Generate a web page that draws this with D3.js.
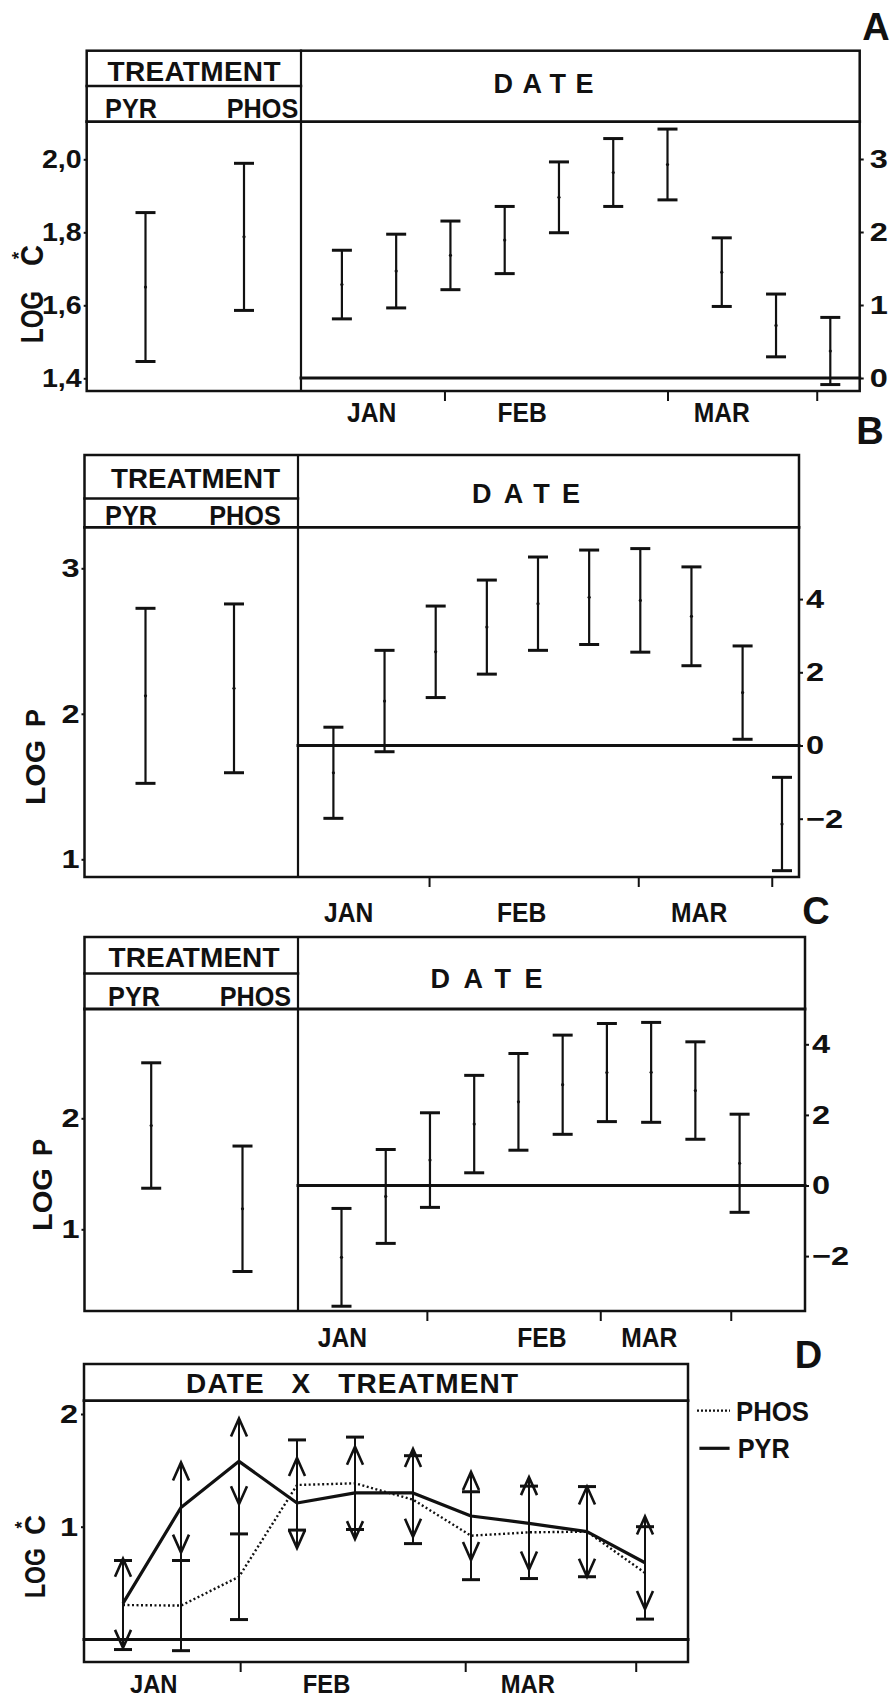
<!DOCTYPE html>
<html><head><meta charset="utf-8">
<script src="https://cdn.jsdelivr.net/npm/d3@7"></script>
<style>
body{margin:0;background:#fff;}
svg{display:block;}
text{font-family:"Liberation Sans",Arial,Helvetica,sans-serif;font-weight:bold;fill:#111;}
</style></head><body>
<script>
// ---------------- DATA ----------------
const treatments = ["PYR", "PHOS"];
const months = ["JAN", "FEB", "MAR"];

// Panel A : LOG *C
const aTreatLo = [1.446, 1.586];
const aTreatHi = [1.854, 1.989];
const aDateIdx = [1, 2, 3, 4, 5, 6, 7, 8, 9, 10];
const aDateLo = [0.81, 0.96, 1.21, 1.43, 1.99, 2.35, 2.44, 0.98, 0.29, -0.09];
const aDateHi = [1.75, 1.97, 2.15, 2.35, 2.96, 3.28, 3.41, 1.92, 1.15, 0.83];
const aMonthTicks = [2.89, 7.0, 9.75];
const aMonthLabelPos = [1.55, 4.32, 8.0];
const aLeftTicks = [1.4, 1.6, 1.8, 2.0];
const aRightTicks = [0, 1, 2, 3];

// Panel B : LOG P
const bTreatLo = [1.522, 1.595];
const bTreatHi = [2.725, 2.755];
const bDateIdx = [1, 2, 3, 4, 5, 6, 7, 8, 9, 9.77];
const bDateLo = [-1.99, -0.17, 1.31, 1.95, 2.60, 2.76, 2.55, 2.18, 0.17, -3.42];
const bDateHi = [0.50, 2.60, 3.81, 4.52, 5.15, 5.34, 5.38, 4.88, 2.72, -0.87];
const bMonthTicks = [2.87, 6.96, 9.57];
const bMonthLabelPos = [1.30, 4.68, 8.15];
const bLeftTicks = [1, 2, 3];
const bRightTicks = [-2, 0, 2, 4];

// Panel C : LOG P
const cTreatLo = [1.37, 0.62];
const cTreatHi = [2.50, 1.75];
const cDateIdx = [1, 2, 3, 4, 5, 6, 7, 8, 9, 10];
const cDateLo = [-3.42, -1.64, -0.62, 0.36, 1.00, 1.45, 1.81, 1.79, 1.31, -0.76];
const cDateHi = [-0.65, 1.02, 2.06, 3.12, 3.74, 4.26, 4.59, 4.62, 4.07, 2.02];
const cMonthTicks = [2.93, 6.85, 9.8];
const cMonthLabelPos = [1.02, 5.53, 7.96];
const cLeftTicks = [1, 2];
const cRightTicks = [-2, 0, 2, 4];

// Panel D : DATE x TREATMENT, LOG *C
const dDateIdx = [1, 2, 3, 4, 5, 6, 7, 8, 9, 10];
const dPyrMean = [0.32, 1.17, 1.58, 1.21, 1.30, 1.30, 1.095, 1.03, 0.956, 0.68];
const dPhosMean = [0.305, 0.30, 0.556, 1.37, 1.385, 1.24, 0.92, 0.95, 0.956, 0.59];
const dHalf = [0.395, 0.40, 0.38, 0.40, 0.41, 0.39, 0.39, 0.41, 0.40, 0.41];
const dMonthTicks = [3.02, 6.9, 9.84];
const dMonthLabelPos = [1.53, 4.51, 7.98];
const dLeftTicks = [1, 2];

// ---------------- DRAWING ----------------
const W = 893, H = 1702, ink = "#111";
const svg = d3.select("body").append("svg").attr("width", W).attr("height", H);
svg.append("rect").attr("width", W).attr("height", H).attr("fill", "#fff");

// text centred vertically on yc; optional fixed length or condense factor
function txt(g, x, yc, s, size, opts = {}) {
  const t = g.append("text").attr("x", x).attr("y", yc + 0.358 * size)
    .attr("font-size", size).attr("text-anchor", opts.anchor || "middle").text(s);
  if (opts.pre) t.attr("xml:space", "preserve");
  if (opts.len) {
    const nat = t.node().getComputedTextLength();
    t.attr("textLength", opts.len).attr("lengthAdjust", nat > opts.len ? "spacingAndGlyphs" : "spacing");
  } else if (opts.cond) {
    const nat = t.node().getComputedTextLength();
    t.attr("textLength", nat * opts.cond).attr("lengthAdjust", "spacingAndGlyphs");
  }
  return t;
}
function ln(g, x1, y1, x2, y2, w) {
  return g.append("line").attr("x1", x1).attr("y1", y1).attr("x2", x2).attr("y2", y2)
    .attr("stroke", ink).attr("stroke-width", w).attr("stroke-linecap", "square");
}
// rotated axis title: word1 from page y1 (bottom) up to y2, word2 from y3 up to y4, baseline at bx
function rotLabel(g, bx, size, w1, y1, y2, w2, y3, y4, star) {
  const mk = (s, ya, yb) => g.append("text")
    .attr("transform", `translate(${bx},${ya}) rotate(-90)`)
    .attr("x", 0).attr("y", 0).attr("text-anchor", "start").attr("font-size", size)
    .attr("textLength", ya - yb).attr("lengthAdjust", "spacingAndGlyphs").text(s);
  mk(w1, y1, y2);
  mk(w2, y3, y4);
  if (star) {
    g.append("text").attr("transform", `translate(${bx - 0.72 * size - 5},${(y3 + y4) / 2}) rotate(-90)`)
      .attr("y", 0.3 * size).attr("text-anchor", "middle").attr("font-size", size * 0.62).text("*");
  }
}
function styleAxis(ax, size, stretch) {
  ax.select(".domain").remove();
  ax.selectAll(".tick line").attr("stroke", ink).attr("stroke-width", 2);
  ax.selectAll(".tick text").attr("font-size", size).attr("fill", ink)
    .style("font-family", '"Liberation Sans",Arial,sans-serif').style("font-weight", "bold");
  if (stretch) ax.selectAll(".tick text").each(function () {
    const n = this.getComputedTextLength();
    if (n > 0) d3.select(this).attr("textLength", n * stretch).attr("lengthAdjust", "spacingAndGlyphs");
  });
}

function eventPanel(c) {
  const g = svg.append("g");
  const b = c.box;
  const yL = d3.scaleLinear().domain(c.leftDom).range(c.leftRange);
  const yR = d3.scaleLinear().domain(c.rightDom).range(c.rightRange);
  const xT = d3.scaleLinear().domain([0, 1]).range(c.treatX);
  const xD = d3.scaleLinear().domain([1, c.idxRef]).range(c.dateX);

  // frame
  g.append("rect").attr("x", b.L).attr("y", b.T).attr("width", b.R - b.L).attr("height", b.B - b.T)
    .attr("fill", "none").attr("stroke", ink).attr("stroke-width", 2.5);
  ln(g, b.M, b.T, b.M, b.B, 2.2);
  ln(g, b.L, b.row, b.M, b.row, 2.5);
  ln(g, b.L, b.hdr, b.R, b.hdr, 2.8);
  ln(g, b.M, yR(0), b.R, yR(0), 3);

  // header text
  txt(g, c.txt.treat[0], c.txt.treat[1], "TREATMENT", 28, { len: c.txt.treat[2] });
  txt(g, c.txt.pyr[0], c.txt.pyr[1], treatments[0], 28, { cond: 0.9 });
  txt(g, c.txt.phos[0], c.txt.phos[1], treatments[1], 28, { cond: 0.9 });
  txt(g, c.txt.date[0], c.txt.date[1], "DATE", 27, { len: c.txt.date[2] });

  // axes
  const axL = g.append("g").attr("transform", `translate(${b.L},0)`)
    .call(d3.axisLeft(yL).tickValues(c.leftTicks).tickSize(3).tickPadding(2).tickFormat(c.leftFmt));
  styleAxis(axL, 26, c.lStretch);
  const axR = g.append("g").attr("transform", `translate(${b.R},0)`)
    .call(d3.axisRight(yR).tickValues(c.rightTicks).tickSize(4).tickPadding(c.rPad).tickFormat(d3.format("d")));
  styleAxis(axR, 26, 1.25);
  const axB = g.append("g").attr("transform", `translate(0,${b.B})`)
    .call(d3.axisBottom(xD).tickValues(c.monthTicks).tickSize(10).tickFormat(""));
  styleAxis(axB, 20);
  c.monthLabelPos.forEach((p, i) => txt(g, xD(p), c.monthY, months[i], 28, { cond: 0.88 }));

  // error bars
  const drawBars = (xs, lo, hi, ys) => {
    const d = xs.map((x, i) => ({ x, lo: lo[i], hi: hi[i] }));
    g.selectAll(null).data(d).join("line").attr("x1", e => e.x).attr("x2", e => e.x)
      .attr("y1", e => ys(e.hi)).attr("y2", e => ys(e.lo)).attr("stroke", ink).attr("stroke-width", 2.2);
    ["hi", "lo"].forEach(k => g.selectAll(null).data(d).join("line")
      .attr("x1", e => e.x - 10).attr("x2", e => e.x + 10)
      .attr("y1", e => ys(e[k])).attr("y2", e => ys(e[k]))
      .attr("stroke", ink).attr("stroke-width", 3));
    g.selectAll(null).data(d).join("circle").attr("cx", e => e.x).attr("cy", e => ys((e.hi + e.lo) / 2))
      .attr("r", 1.6).attr("fill", ink);
  };
  drawBars([xT(0), xT(1)], c.treatLo, c.treatHi, yL);
  drawBars(c.dateIdx.map(xD), c.dateLo, c.dateHi, yR);

  const yl = c.ylab;
  rotLabel(g, yl[0], yl[1], yl[2], yl[3], yl[4], yl[5], yl[6], yl[7], yl[8]);
  txt(g, c.letter[0], c.letter[1], c.letter[2], 38);
}

eventPanel({
  box: { L: 86.7, M: 301, R: 859.7, T: 50.7, row: 86, hdr: 121.7, B: 391 },
  leftDom: [1.4, 2.0], leftRange: [378.3, 159.3], lStretch: 1.1,
  rightDom: [0, 3], rightRange: [378, 159], rPad: 6,
  treatX: [145.5, 244], idxRef: 10, dateX: [341.9, 830.3],
  leftTicks: aLeftTicks, leftFmt: d => d.toFixed(1).replace(".", ","),
  rightTicks: aRightTicks, monthTicks: aMonthTicks, monthLabelPos: aMonthLabelPos, monthY: 412,
  treatLo: aTreatLo, treatHi: aTreatHi, dateIdx: aDateIdx, dateLo: aDateLo, dateHi: aDateHi,
  txt: { treat: [194, 70.8, 173], pyr: [131, 107.5], phos: [262.5, 107.5], date: [543.5, 83, 100] },
  ylab: [43, 31, "LOG", 343, 291, "C", 266, 245, true], letter: [876, 26, "A"]
});
eventPanel({
  box: { L: 84.5, M: 298, R: 799, T: 455, row: 498.5, hdr: 527.3, B: 877 },
  leftDom: [1, 3], leftRange: [859.3, 568.3], lStretch: 1.25,
  rightDom: [0, 4], rightRange: [745.5, 599.1], rPad: 3,
  treatX: [145.5, 234], idxRef: 9, dateX: [333.4, 742.6],
  leftTicks: bLeftTicks, leftFmt: d3.format("d"),
  rightTicks: bRightTicks, monthTicks: bMonthTicks, monthLabelPos: bMonthLabelPos, monthY: 911.7,
  treatLo: bTreatLo, treatHi: bTreatHi, dateIdx: bDateIdx, dateLo: bDateLo, dateHi: bDateHi,
  txt: { treat: [195.6, 478, 169], pyr: [131, 515], phos: [245, 515], date: [526, 493, 108] },
  ylab: [45, 28, "LOG", 805, 740, "P", 727, 709, false], letter: [870, 430, "B"]
});
eventPanel({
  box: { L: 84.5, M: 298, R: 805, T: 937, row: 973.5, hdr: 1009, B: 1311 },
  leftDom: [1, 2], leftRange: [1229.3, 1118.3], lStretch: 1.25,
  rightDom: [0, 4], rightRange: [1185.5, 1044.3], rPad: 3,
  treatX: [151.2, 242.5], idxRef: 10, dateX: [341.5, 739.6],
  leftTicks: cLeftTicks, leftFmt: d3.format("d"),
  rightTicks: cRightTicks, monthTicks: cMonthTicks, monthLabelPos: cMonthLabelPos, monthY: 1336.7,
  treatLo: cTreatLo, treatHi: cTreatHi, dateIdx: cDateIdx, dateLo: cDateLo, dateHi: cDateHi,
  txt: { treat: [194, 956.7, 171], pyr: [134, 996], phos: [255.4, 996], date: [486.6, 978.3, 112] },
  ylab: [52, 28, "LOG", 1231, 1168, "P", 1156, 1139, false], letter: [816, 910, "C"]
});

// ---------- Panel D ----------
(function () {
  const g = svg.append("g");
  const b = { L: 84, R: 688, T: 1364, hdr: 1400.7, B: 1662 };
  const y = d3.scaleLinear().domain([0, 2]).range([1639.4, 1414]);
  const x = d3.scaleLinear().domain([1, 10]).range([123, 645]);

  g.append("rect").attr("x", b.L).attr("y", b.T).attr("width", b.R - b.L).attr("height", b.B - b.T)
    .attr("fill", "none").attr("stroke", ink).attr("stroke-width", 2.5);
  ln(g, b.L, b.hdr, b.R, b.hdr, 2.8);
  ln(g, b.L, y(0), b.R, y(0), 3);
  txt(g, 352, 1383.3, "DATE   X   TREATMENT", 28, { len: 332, pre: true });

  const axL = g.append("g").attr("transform", `translate(${b.L},0)`)
    .call(d3.axisLeft(y).tickValues(dLeftTicks).tickSize(3).tickPadding(3).tickFormat(d3.format("d")));
  styleAxis(axL, 26, 1.25);
  const axB = g.append("g").attr("transform", `translate(0,${b.B})`)
    .call(d3.axisBottom(x).tickValues(dMonthTicks).tickSize(10).tickFormat(""));
  styleAxis(axB, 20);
  dMonthLabelPos.forEach((p, i) => txt(g, x(p), 1684.5, months[i], 25, { cond: 0.95 }));

  const rows = dDateIdx.map((d, i) => ({ x: x(d), pyr: dPyrMean[i], phos: dPhosMean[i], h: dHalf[i] }));

  // vertical range lines
  g.selectAll(null).data(rows).join("line")
    .attr("x1", r => r.x).attr("x2", r => r.x)
    .attr("y1", r => y(Math.max(r.pyr, r.phos) + r.h))
    .attr("y2", r => y(Math.min(r.pyr, r.phos) - r.h))
    .attr("stroke", ink).attr("stroke-width", 2);
  // PHOS T caps
  ["+", "-"].forEach(s => g.selectAll(null).data(rows).join("line")
    .attr("x1", r => r.x - 9).attr("x2", r => r.x + 9)
    .attr("y1", r => y(r.phos + (s === "+" ? r.h : -r.h)))
    .attr("y2", r => y(r.phos + (s === "+" ? r.h : -r.h)))
    .attr("stroke", ink).attr("stroke-width", 3));
  // PYR arrow heads (open, pointing outward)
  g.selectAll(null).data(rows).join("path")
    .attr("d", r => { const t = y(r.pyr + r.h); return `M${r.x - 8},${t + 18}L${r.x},${t}L${r.x + 8},${t + 18}`; })
    .attr("fill", "none").attr("stroke", ink).attr("stroke-width", 2.6);
  g.selectAll(null).data(rows).join("path")
    .attr("d", r => { const t = y(r.pyr - r.h); return `M${r.x - 8},${t - 18}L${r.x},${t}L${r.x + 8},${t - 18}`; })
    .attr("fill", "none").attr("stroke", ink).attr("stroke-width", 2.6);

  // mean lines
  const lineGen = k => d3.line().x(r => r.x).y(r => y(r[k]))(rows);
  g.append("path").attr("d", lineGen("phos")).attr("fill", "none").attr("stroke", ink)
    .attr("stroke-width", 2.4).attr("stroke-dasharray", "2,2.5");
  g.append("path").attr("d", lineGen("pyr")).attr("fill", "none").attr("stroke", ink)
    .attr("stroke-width", 3.2).attr("stroke-linejoin", "round");

  // legend
  g.append("line").attr("x1", 697).attr("x2", 730).attr("y1", 1410.7).attr("y2", 1410.7)
    .attr("stroke", ink).attr("stroke-width", 2.2).attr("stroke-dasharray", "2,2");
  txt(g, 736, 1410.7, treatments[1], 28, { anchor: "start", len: 73 });
  ln(g, 701, 1448.3, 728, 1448.3, 3.2);
  txt(g, 737.7, 1448.3, treatments[0], 28, { anchor: "start", len: 52 });

  rotLabel(g, 45, 29, "LOG", 1598, 1548, "C", 1535, 1515, true);
  txt(g, 808.5, 1354, "D", 38);
})();
</script>
</body></html>
